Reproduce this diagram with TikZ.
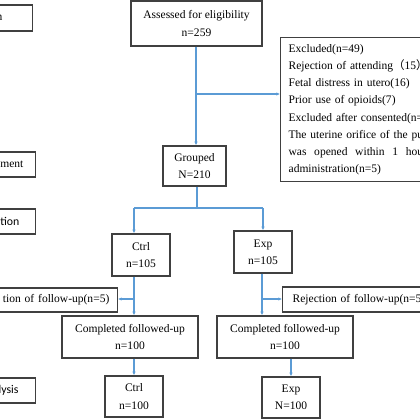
\documentclass[tikz,border=0pt]{standalone}
\usepackage{xcolor}
\usepackage{fontspec}
\setmainfont{Liberation Serif}
\newfontfamily\cjk{Noto Sans CJK SC}
\newfontfamily\stagefont{Carlito}
\usepackage{tikz}
\usetikzlibrary{arrows.meta, positioning}
\definecolor{boxcolor}{RGB}{64,64,64}
\definecolor{flowcolor}{RGB}{91,155,213}

\tikzset{
  box/.style={draw=boxcolor, line width=0.9pt, align=center, inner sep=0pt,
    font=\fontsize{8.2}{12.2}\selectfont},
  stagebox/.style={draw=boxcolor, line width=0.9pt, anchor=east, text width=2cm,
    align=right, inner ysep=0pt, minimum height=0.63cm, font=\fontsize{8.2}{10}\selectfont},
  line/.style={draw=flowcolor, line width=0.8pt},
  flow/.style={line, -{Latex[length=2.6pt,width=2.4pt]}},
}

\begin{document}
\begin{tikzpicture}[x=0.025cm, y=-0.025cm]
    \useasboundingbox (0,0) rectangle (420,420);
    \clip (0,0) rectangle (420,420);

    % Stages on the left
    \node[stagebox, inner xsep=0.75cm, minimum height=0.65cm] (stageA) at (33,18) {n};
    \node[stagebox, inner xsep=0.3cm] (stageB) at (36,164.5) {ment};
    \node[stagebox, inner xsep=0.4cm, font=\stagefont\fontsize{8.4}{10}\selectfont] (stageC) at (36,221.5) {tion};
    \node[stagebox, inner xsep=0.42cm, font=\stagefont\fontsize{8.4}{10}\selectfont] (stageD) at (36,390.5) {lysis};

    % Enrolment
    \node[box, minimum width=3.275cm, minimum height=1.125cm] (assess) at (196.5,23.5) {Assessed for eligibility\\n=259};
    \node[box, anchor=north west, minimum width=5cm, minimum height=3.6cm, text width=4.6cm,
      align=left, inner xsep=0.2cm] (excl) at (280,37)
      {Excluded(n=49)\\
       Rejection of attending{\cjk（}15{\cjk）}\\
       Fetal distress in utero(16)\\
       Prior use of opioids(7)\\
       Excluded after consented(n=\\
       The uterine orifice of the pu\\
       was\ \ opened\ \ within\ \ 1\ \ hour\\
       administration(n=5)};
    \node[box, minimum width=1.575cm, minimum height=1cm] (grouped) at (194.5,166) {Grouped\\N=210};

    % Two arms
    \node[box, minimum width=1.45cm, minimum height=1.05cm] (ctrlA) at (141,255) {Ctrl\\n=105};
    \node[box, minimum width=1.45cm, minimum height=1.05cm] (expA) at (263,252) {Exp\\n=105};
    \node[box, anchor=east, text width=4cm, align=right, inner xsep=0.2cm, minimum height=0.6cm] (rejL) at (118,300) {tion of follow-up(n=5)};
    \node[box, anchor=west, text width=4cm, align=left, inner xsep=0.25cm, minimum height=0.62cm] (rejR) at (282,299.5) {Rejection of follow-up(n=5)};
    \node[box, minimum width=3.4cm, minimum height=1.05cm] (compA) at (130,337) {Completed followed-up\\n=100};
    \node[box, minimum width=3.4cm, minimum height=1.05cm] (compB) at (285,337) {Completed followed-up\\n=100};
    \node[box, minimum width=1.45cm, minimum height=1.025cm] (ctrlB) at (134,396.5) {Ctrl\\n=100};
    \node[box, minimum width=1.45cm, minimum height=1.025cm] (expB) at (291,397.5) {Exp\\N=100};

    % Connectors
    \coordinate (split) at (196,94);
    \draw[flow] (assess.south -| split) -- (grouped.north -| split);
    \draw[flow] (split) -- (split -| excl.west);

    \coordinate (fork) at (197,208);
    \coordinate (forkL) at (134,208);
    \coordinate (forkR) at (263,208);
    \draw[line] (grouped.south -| fork) -- (fork);
    \draw[line] (forkL) -- (forkR);
    \draw[flow] (forkL) -- (forkL |- ctrlA.north);
    \draw[flow] (forkR) -- (forkR |- expA.north);

    \coordinate (dropA) at (134,299);
    \draw[flow] (ctrlA.south -| dropA) -- (compA.north -| dropA);
    \draw[flow] (dropA) -- (dropA -| rejL.east);
    \draw[flow] (compA.south -| ctrlB) -- (ctrlB.north);

    \coordinate (dropB) at (262,299);
    \draw[flow] (expA.south -| dropB) -- (compB.north -| dropB);
    \draw[flow] (dropB) -- (dropB -| rejR.west);
    \draw[flow] (compB.south -| expB) -- (expB.north);
\end{tikzpicture}
\end{document}
